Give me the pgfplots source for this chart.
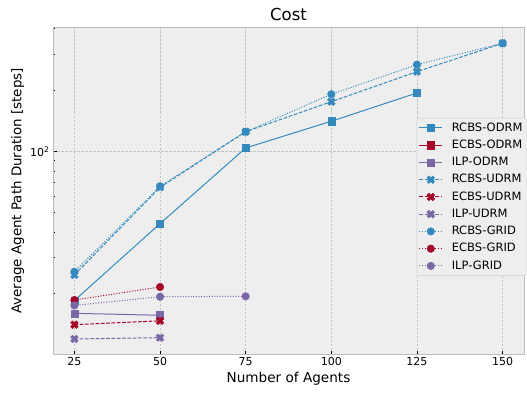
\documentclass[border=0pt]{standalone}
\usepackage{fontspec}
\setmainfont{DejaVu Sans}
\usepackage{pgfplots}
\pgfplotsset{compat=1.18}
\definecolor{cblue}{HTML}{348ABD}
\definecolor{cred}{HTML}{A60628}
\definecolor{cpurp}{HTML}{7A68A6}
\definecolor{bgc}{HTML}{EEEEEE}
\definecolor{gridc}{HTML}{C4C4C4}
\definecolor{edgec}{HTML}{BCBCBC}
\pgfdeclareplotmark{fatx}{%
 \pgfpathmoveto{\pgfpoint{-0.566\pgfplotmarksize}{1.131\pgfplotmarksize}}%
 \pgfpathlineto{\pgfpoint{0\pgfplotmarksize}{0.566\pgfplotmarksize}}%
 \pgfpathlineto{\pgfpoint{0.566\pgfplotmarksize}{1.131\pgfplotmarksize}}%
 \pgfpathlineto{\pgfpoint{1.131\pgfplotmarksize}{0.566\pgfplotmarksize}}%
 \pgfpathlineto{\pgfpoint{0.566\pgfplotmarksize}{0\pgfplotmarksize}}%
 \pgfpathlineto{\pgfpoint{1.131\pgfplotmarksize}{-0.566\pgfplotmarksize}}%
 \pgfpathlineto{\pgfpoint{0.566\pgfplotmarksize}{-1.131\pgfplotmarksize}}%
 \pgfpathlineto{\pgfpoint{0\pgfplotmarksize}{-0.566\pgfplotmarksize}}%
 \pgfpathlineto{\pgfpoint{-0.566\pgfplotmarksize}{-1.131\pgfplotmarksize}}%
 \pgfpathlineto{\pgfpoint{-1.131\pgfplotmarksize}{-0.566\pgfplotmarksize}}%
 \pgfpathlineto{\pgfpoint{-0.566\pgfplotmarksize}{0\pgfplotmarksize}}%
 \pgfpathlineto{\pgfpoint{-1.131\pgfplotmarksize}{0.566\pgfplotmarksize}}%
 \pgfpathclose
 \pgfusepathqfillstroke
}
\pgfplotsset{
  odrm/.style={solid, line width=1pt, color=#1, mark=square*, mark size=3.6pt,
     mark options={solid, fill=#1, draw=#1, line width=0.4pt}},
  udrm/.style={dash pattern=on 3.7pt off 1.6pt, line width=1pt, color=#1, mark=fatx, mark size=3.4pt,
     mark options={solid, fill=#1, draw=#1, line width=0.4pt}},
  grid/.style={dash pattern=on 1pt off 1.65pt, line width=1pt, color=#1, mark=*, mark size=3.8pt,
     mark options={solid, fill=#1, draw=#1, line width=0.4pt}},
}
\begin{document}
\begin{tikzpicture}
\begin{axis}[
  name=ax,
  scale only axis,
  width=471pt, height=326pt,
  xmin=18.75, xmax=156.25,
  ymode=log, ymin=10.1, ymax=403,
  axis background/.style={fill=bgc},
  axis line style={edgec, line width=1pt},
  xtick={25,50,75,100,125,150},
  ytick={100},
  yticklabels={10\textsuperscript{2}},
  minor ytick={20,30,40,50,60,70,80,90,200,300,400},
  xmajorgrids, ymajorgrids,
  major grid style={gridc, line width=0.5pt, dash pattern=on 2.5pt off 1.5pt},
  tick align=inside,
  major tick length=3.5pt, minor tick length=2pt,
  tick style={black, line width=0.8pt},
  xtick pos=bottom, ytick pos=left,
  /pgf/number format/assume math mode=true,
  ticklabel style={font=\fontsize{11}{13}\selectfont},
  title={Cost},
  title style={font=\fontsize{16.5}{19}\selectfont, yshift=-2.5pt},
  xlabel={Number of Agents},
  ylabel={Average Agent Path Duration [steps]},
  xlabel style={font=\fontsize{13.6}{16}\selectfont, yshift=1pt},
  ylabel style={font=\fontsize{13.4}{16}\selectfont, yshift=-1pt},
  legend cell align=left,
  legend style={at={(0.772,0.724)}, anchor=north west, draw=black!20, fill=bgc,
     rounded corners=2pt, font=\fontsize{11.5}{13}\selectfont,
     row sep=3.75pt, column sep=7pt, inner xsep=2pt, inner ysep=3pt,
     nodes={text height=9pt, text depth=2.5pt, inner ysep=1pt, inner xsep=2pt}},
  legend image code/.code={\draw[mark repeat=2,mark phase=2] plot coordinates {(0pt,0pt) (11.5pt,0pt) (23pt,0pt)};},
]
\addplot[odrm=cblue] coordinates {(25,18.5)(50,44.1)(75,103.8)(100,140.4)(125,193.4)};
\addlegendentry{RCBS-ODRM}
\addlegendimage{odrm=cred}
\addlegendentry{ECBS-ODRM}
\addplot[odrm=cpurp] coordinates {(25,16.0)(50,15.65)};
\addlegendentry{ILP-ODRM}
\addplot[udrm=cblue] coordinates {(25,24.7)(50,66.5)(75,124.8)(100,175.2)(125,246)(150,339)};
\addlegendentry{RCBS-UDRM}
\addplot[udrm=cred] coordinates {(25,14.07)(50,14.7)};
\addlegendentry{ECBS-UDRM}
\addplot[udrm=cpurp] coordinates {(25,11.97)(50,12.15)};
\addlegendentry{ILP-UDRM}
\addplot[grid=cblue] coordinates {(25,25.6)(50,67.3)(75,124.8)(100,190.5)(125,266.3)(150,339.2)};
\addlegendentry{RCBS-GRID}
\addplot[grid=cred] coordinates {(25,18.6)(50,21.55)};
\addlegendentry{ECBS-GRID}
\addplot[grid=cpurp] coordinates {(25,17.5)(50,19.3)(75,19.4)};
\addlegendentry{ILP-GRID}
\end{axis}
\pgfresetboundingbox
\path[use as bounding box] ([shift={(-53pt,-38pt)}]ax.south west) rectangle ([shift={(3pt,28pt)}]ax.north east);
\end{tikzpicture}
\end{document}
